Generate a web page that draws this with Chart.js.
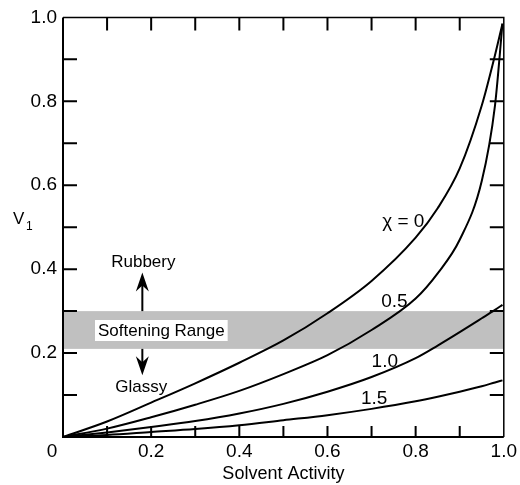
<!DOCTYPE html>
<html>
<head>
<meta charset="utf-8">
<script src="https://cdn.jsdelivr.net/npm/chart.js@4.4.1/dist/chart.umd.min.js"></script>
<style>
  html, body { margin: 0; padding: 0; background: #fff; }
  #wrap { width: 520px; height: 485px; position: relative; }
</style>
</head>
<body>
<div id="wrap"><canvas id="swellChart"></canvas></div>
<script>
// CHART DATA
const activity = [0, 0.1, 0.2, 0.3, 0.4, 0.5, 0.6, 0.7, 0.8, 0.85, 0.9, 0.95, 0.98, 0.997];
const chi0  = [0, 0.037, 0.082, 0.128, 0.177, 0.23, 0.295, 0.372, 0.475, 0.545, 0.64, 0.79, 0.91, 0.985];
const chi05 = [0, 0.02, 0.047, 0.077, 0.11, 0.15, 0.195, 0.255, 0.33, 0.39, 0.47, 0.61, 0.79, 0.985];
const chi10 = [0, 0.011, 0.024, 0.038, 0.056, 0.079, 0.108, 0.143, 0.188, 0.218, 0.25, 0.283, 0.303, 0.315];
const chi15 = [0, 0.005, 0.012, 0.019, 0.028, 0.04, 0.052, 0.067, 0.085, 0.096, 0.108, 0.121, 0.13, 0.135];
const curveLabels = ["\u03c7 = 0", "0.5", "1.0", "1.5"];
const softeningRange = [0.21, 0.30];

// label spots, in axis units
const curveLabelSpots = [[0.772, 0.512], [0.752, 0.322], [0.73, 0.18], [0.706, 0.09]];
const arrowX = 0.18;
const arrowUpTip = 0.392;
const arrowDownTip = 0.147;

const FONT = "'Liberation Sans', Arial, Helvetica, sans-serif";
Chart.defaults.color = "#000";
Chart.defaults.font.family = FONT;

function toPoints(values) {
  return activity.map(function (a, i) { return { x: a, y: values[i] }; });
}

function tickText(value) {
  const tenth = Math.round(value * 10);
  if (tenth === 0 || tenth % 2 !== 0) return "";
  return (tenth / 10).toFixed(1);
}

function arrow(ctx, x, fromY, tipY) {
  const dir = tipY < fromY ? 1 : -1; // 1 = pointing up
  ctx.beginPath();
  ctx.moveTo(x, fromY);
  ctx.lineTo(x, tipY + dir * 10);
  ctx.stroke();
  ctx.beginPath();
  ctx.moveTo(x, tipY);
  ctx.lineTo(x - 6.5, tipY + dir * 19);
  ctx.lineTo(x, tipY + dir * 13);
  ctx.lineTo(x + 6.5, tipY + dir * 19);
  ctx.closePath();
  ctx.fill();
}

// band, frame, inward ticks and text
const decorations = {
  id: "decorations",
  beforeDatasetsDraw(chart) {
    const { ctx, chartArea } = chart;
    const y = chart.scales.y;
    const top = y.getPixelForValue(softeningRange[1]);
    const bottom = y.getPixelForValue(softeningRange[0]);
    ctx.save();
    ctx.fillStyle = "#c0c0c0";
    ctx.fillRect(chartArea.left, top, chartArea.right - chartArea.left, bottom - top);
    ctx.restore();
  },
  afterDraw(chart) {
    const { ctx, chartArea } = chart;
    const x = chart.scales.x;
    const y = chart.scales.y;
    const L = chartArea.left, R = chartArea.right, T = chartArea.top, B = chartArea.bottom;

    ctx.save();
    ctx.strokeStyle = "#000";
    ctx.fillStyle = "#000";

    // frame
    ctx.lineWidth = 1.5;
    ctx.beginPath();
    ctx.moveTo(L, T); ctx.lineTo(R, T); ctx.lineTo(R, B);
    ctx.stroke();
    ctx.lineWidth = 2;
    ctx.beginPath();
    ctx.moveTo(L, T); ctx.lineTo(L, B); ctx.lineTo(R, B);
    ctx.stroke();

    // inward ticks
    ctx.lineWidth = 2;
    y.ticks.forEach(function (t) {
      const py = y.getPixelForValue(t.value);
      if (py <= T + 1 || py >= B - 1) return;
      ctx.beginPath();
      ctx.moveTo(L, py); ctx.lineTo(L + 14, py);
      ctx.moveTo(R, py); ctx.lineTo(R - 14, py);
      ctx.stroke();
    });
    x.ticks.forEach(function (t) {
      const px = x.getPixelForValue(t.value);
      if (px <= L + 1 || px >= R - 1) return;
      ctx.beginPath();
      ctx.moveTo(px, B); ctx.lineTo(px, B - 11);
      ctx.moveTo(px, T); ctx.lineTo(px, T + 13);
      ctx.stroke();
    });

    // shared origin label
    ctx.font = "19px " + FONT;
    ctx.textAlign = "center";
    ctx.textBaseline = "alphabetic";
    ctx.fillText("0", L - 11, B + 20);

    // y axis title V1
    ctx.textAlign = "left";
    ctx.font = "17px " + FONT;
    ctx.fillText("V", 13, 224);
    ctx.font = "12px " + FONT;
    ctx.fillText("1", 26, 230);

    // curve labels
    ctx.font = "19px " + FONT;
    ctx.textAlign = "center";
    ctx.textBaseline = "middle";
    curveLabels.forEach(function (txt, i) {
      const spot = curveLabelSpots[i];
      ctx.fillText(txt, x.getPixelForValue(spot[0]), y.getPixelForValue(spot[1]));
    });

    // softening range box
    const ax = x.getPixelForValue(arrowX);
    const bandTop = y.getPixelForValue(softeningRange[1]);
    const bandBottom = y.getPixelForValue(softeningRange[0]);
    const midY = (bandTop + bandBottom) / 2;
    ctx.font = "17px " + FONT;
    const w = ctx.measureText("Softening Range").width;
    const cx = ax + 19;
    ctx.fillStyle = "#fff";
    ctx.fillRect(cx - w / 2 - 3, midY - 10, w + 6, 21);
    ctx.fillStyle = "#000";
    ctx.fillText("Softening Range", cx, midY + 1);

    // arrows
    ctx.lineWidth = 2;
    arrow(ctx, ax, bandTop, y.getPixelForValue(arrowUpTip));
    arrow(ctx, ax, bandBottom, y.getPixelForValue(arrowDownTip));

    ctx.textBaseline = "alphabetic";
    ctx.fillText("Rubbery", ax + 1, y.getPixelForValue(arrowUpTip) - 6);
    ctx.fillText("Glassy", ax - 1, y.getPixelForValue(arrowDownTip) + 17);

    ctx.restore();
  }
};

function curve(values) {
  return {
    data: toPoints(values),
    borderColor: "#000",
    borderWidth: 2,
    pointRadius: 0,
    fill: false,
    cubicInterpolationMode: "monotone"
  };
}

const ctx = document.getElementById("swellChart").getContext("2d");

const swellChart = new Chart(ctx, {
  type: "line",
  data: {
    datasets: [curve(chi0), curve(chi05), curve(chi10), curve(chi15)]
  },
  options: {
    responsive: true,
    maintainAspectRatio: false,
    animation: false,
    devicePixelRatio: 1,
    layout: { padding: { left: 0, top: 16, right: 14, bottom: 0 } },
    plugins: {
      legend: { display: false },
      tooltip: { enabled: false }
    },
    scales: {
      x: {
        type: "linear",
        min: 0,
        max: 1,
        grid: { display: false, drawTicks: false },
        border: { display: false },
        ticks: {
          stepSize: 0.1,
          autoSkip: false,
          maxRotation: 0,
          padding: 3,
          font: { size: 19 },
          callback: tickText
        },
        title: {
          display: true,
          text: "Solvent Activity",
          font: { size: 18 },
          padding: { top: 0, bottom: 0 }
        },
        afterFit: function (scale) { scale.height = 48; }
      },
      y: {
        type: "linear",
        min: 0,
        max: 1,
        grid: { display: false, drawTicks: false },
        border: { display: false },
        ticks: {
          stepSize: 0.1,
          autoSkip: false,
          padding: 6,
          font: { size: 19 },
          callback: tickText
        },
        afterFit: function (scale) { scale.width = 63; }
      }
    }
  },
  plugins: [decorations]
});
</script>
</body>
</html>
